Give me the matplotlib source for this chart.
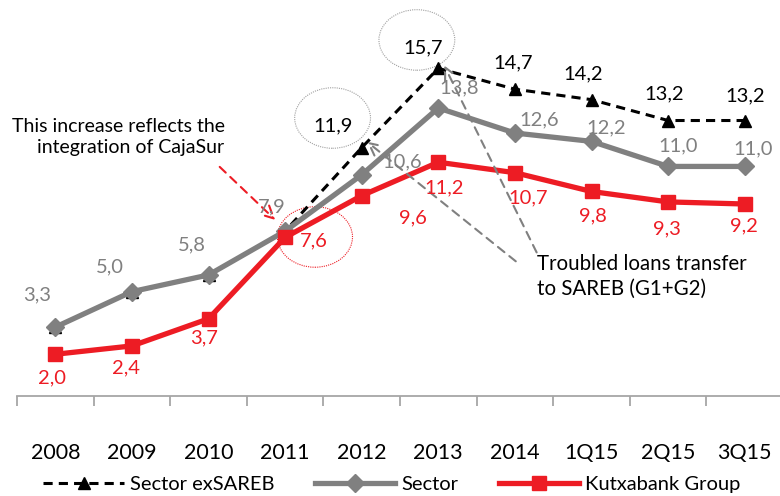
import matplotlib
matplotlib.use("Agg")
import matplotlib.pyplot as plt
from matplotlib.patches import Ellipse

plt.rcParams["font.family"] = ["Lato", "DejaVu Sans"]

categories = ["2008", "2009", "2010", "2011", "2012", "2013", "2014", "1Q15", "2Q15", "3Q15"]
sector_exsareb = [3.3, 5.0, 5.8, 7.9, 11.9, 15.7, 14.7, 14.2, 13.2, 13.2]
sector = [3.3, 5.0, 5.8, 7.9, 10.6, 13.8, 12.6, 12.2, 11.0, 11.0]
kutxabank = [2.0, 2.4, 3.7, 7.6, 9.6, 11.2, 10.7, 9.8, 9.3, 9.2]

# exSAREB labels only shown from 2012 onwards (earlier ones coincide with Sector)
exsareb_first_label = 4

# label offsets in pixels (dx, dy)
off_ex = [None, None, None, None, (-29, 22), (-15, 20), (-2, 26), (-8, 26), (-4, 27), (0, 25)]
off_sec = [(-18, 32), (-22, 25), (-17, 30), (-13, 24), (40, 13), (21, 20), (24, 13), (15, 14), (10, 21), (8, 18)]
off_kb = [(-3, -24), (-6, -22), (-4, -19), (29, -3), (51, -22), (6, -26), (13, -25), (1, -24), (-1, -27), (-1, -22)]

BLACK = "#000000"
GREY = "#808080"
RED = "#ED1C24"

W, H = 780, 496
fig = plt.figure(figsize=(W / 100, H / 100), dpi=100)
ax = fig.add_axes([17 / W, 100 / H, 766 / W, 396 / H])

x = list(range(len(categories)))

ax.plot(x, sector_exsareb, color=BLACK, linestyle=(0, (3, 2)), linewidth=2.2,
        marker="^", markersize=9, label="Sector exSAREB", zorder=2)
ax.plot(x, sector, color=GREY, linewidth=3.8, marker="D", markersize=9,
        label="Sector", zorder=3)
ax.plot(x, kutxabank, color=RED, linewidth=3.8, marker="s", markersize=10,
        label="Kutxabank Group", zorder=4)


def fmt(v):
    return f"{v:.1f}".replace(".", ",")


lab_size = 14.5
for i, v in enumerate(sector_exsareb):
    if i < exsareb_first_label:
        continue
    ax.annotate(fmt(v), (i, v), xytext=off_ex[i], textcoords="offset pixels",
                ha="center", va="center", fontsize=lab_size, color=BLACK, zorder=6)
for i, v in enumerate(sector):
    ax.annotate(fmt(v), (i, v), xytext=off_sec[i], textcoords="offset pixels",
                ha="center", va="center", fontsize=lab_size, color=GREY, zorder=6)
for i, v in enumerate(kutxabank):
    ax.annotate(fmt(v), (i, v), xytext=off_kb[i], textcoords="offset pixels",
                ha="center", va="center", fontsize=lab_size, color=RED, zorder=6)

# ellipses highlighting points
i12, i13, i11 = categories.index("2012"), categories.index("2013"), categories.index("2011")
ax.add_patch(Ellipse((i12 - 0.38, sector_exsareb[i12] + 1.42), 0.99, 2.9, fill=False,
                     edgecolor="#A0A0A0", linestyle=(0, (1, 1)), linewidth=0.8, zorder=1))
ax.add_patch(Ellipse((i13 - 0.28, sector_exsareb[i13] + 1.36), 0.99, 2.9, fill=False,
                     edgecolor="#A0A0A0", linestyle=(0, (1, 1)), linewidth=0.8, zorder=1))
ax.add_patch(Ellipse((i11 + 0.39, kutxabank[i11] + 0.02), 0.98, 2.9, fill=False,
                     edgecolor=RED, linestyle=(0, (1, 1)), linewidth=0.8, zorder=1))

# SAREB transfer arrows
ax.annotate("", xy=(i12 + 0.04, sector_exsareb[i12] + 0.37), xytext=(6.04, 6.37),
            arrowprops=dict(arrowstyle="->", color=GREY, linestyle=(0, (4, 3)),
                            linewidth=1.5, mutation_scale=22), zorder=5)
ax.annotate("", xy=(i13 + 0.06, sector_exsareb[i13] + 0.26), xytext=(6.30, 6.76),
            arrowprops=dict(arrowstyle="->", color=GREY, linestyle=(0, (4, 3)),
                            linewidth=1.5, mutation_scale=22), zorder=5)
ax.text(6.29, 5.75, "Troubled loans transfer\nto SAREB (G1+G2)", ha="left", va="center",
        fontsize=14.8, color=BLACK, linespacing=1.3)

# CajaSur arrow
ax.annotate("", xy=(i11 - 0.1, kutxabank[i11] + 0.74), xytext=(2.12, 11.07),
            arrowprops=dict(arrowstyle="->", color=RED, linestyle=(0, (4, 3)),
                            linewidth=1.5, mutation_scale=22), zorder=5)
ax.text(2.21, 12.4, "This increase reflects the\nintegration of CajaSur", ha="right",
        va="center", fontsize=14, color=BLACK, linespacing=1.3)

ax.set_xlim(-0.5, len(categories) - 0.5)
ax.set_ylim(0, 396 / 20.87)

for s in ["top", "left", "right"]:
    ax.spines[s].set_visible(False)
ax.spines["bottom"].set_color("#A6A6A6")
ax.spines["bottom"].set_linewidth(1.3)
ax.set_yticks([])

ax.set_xticks(x)
ax.set_xticklabels(categories, fontsize=15.5)
ax.tick_params(axis="x", which="major", length=0, pad=34)
ax.set_xticks([i - 0.5 for i in x], minor=True)
ax.tick_params(axis="x", which="minor", length=7, width=1.3, color="#A6A6A6", direction="out")

fig.legend(loc="center", bbox_to_anchor=(392 / W, 1 - 484 / H), ncol=3, frameon=False,
           fontsize=14.5, handlelength=4.0, columnspacing=2.0, handletextpad=0.3, numpoints=1)

fig.savefig("out.png", dpi=100)
